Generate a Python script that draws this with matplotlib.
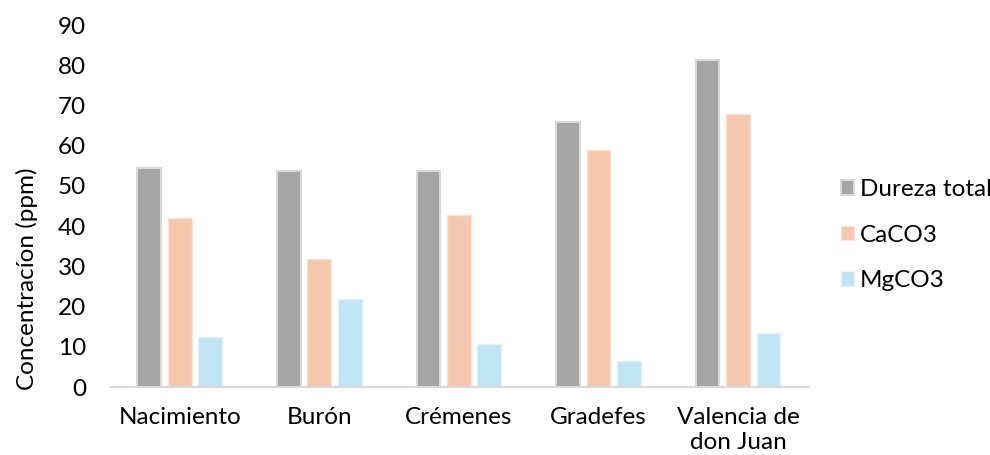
import numpy as np
import matplotlib.pyplot as plt

plt.rcParams['font.family'] = ['Lato', 'DejaVu Sans']

# Datos
sitios = ['Nacimiento', 'Burón', 'Crémenes', 'Gradefes', 'Valencia de\ndon Juan']
dureza_total = [54.5, 53.8, 53.8, 65.8, 81.3]
caco3 = [42.0, 31.8, 42.8, 59.0, 67.9]
mgco3 = [12.5, 21.9, 10.8, 6.5, 13.5]

x = np.arange(len(sitios))
ancho = 0.17
paso = 0.218

fig = plt.figure(figsize=(9.9, 4.55), dpi=100)
ax = fig.add_axes([0.111, 0.149, 0.705, 0.796])

ax.bar(x - paso, dureza_total, ancho, color='#a5a5a5', edgecolor='#d9d9d9',
       linewidth=1.5, label='Dureza total')
ax.bar(x, caco3, ancho, color='#f5c7ad', edgecolor='#fbe2d5',
       linewidth=1.0, label='CaCO3')
ax.bar(x + paso, mgco3, ancho, color='#c1e4f5', edgecolor='#e2f2fa',
       linewidth=1.0, label='MgCO3')

ax.set_xlim(-0.5, len(sitios) - 0.5)
ax.set_ylim(0, 90)
ax.set_yticks(range(0, 91, 10))
ax.set_xticks(x)
ax.set_xticklabels(sitios, fontsize=17.5, linespacing=1.25)
ax.tick_params(axis='y', labelsize=17.5, length=0, pad=17)
ax.tick_params(axis='x', length=0, pad=14)

for lado in ['top', 'right', 'left']:
    ax.spines[lado].set_visible(False)
ax.spines['bottom'].set_color('#d9d9d9')
ax.spines['bottom'].set_linewidth(1.5)

ax.set_ylabel('Concentracíon (ppm)', fontsize=17.5)
ax.yaxis.set_label_coords(-0.103, 0.30)

ax.legend(loc='center left', bbox_to_anchor=(1.033, 0.42), frameon=False,
          fontsize=17.5, handlelength=0.55, handleheight=0.55, handletextpad=0.25,
          labelspacing=1.0, borderaxespad=0)

fig.savefig('out.png', dpi=100)
